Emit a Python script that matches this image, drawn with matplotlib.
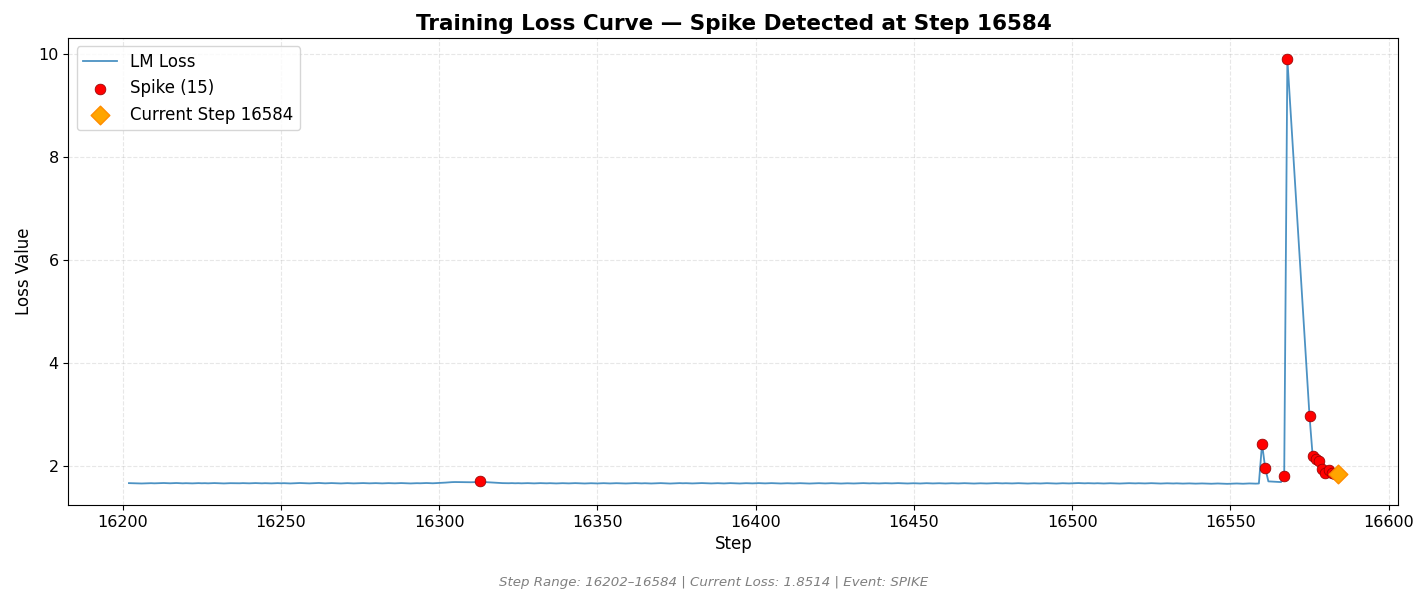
import numpy as np
import matplotlib
matplotlib.use("Agg")
import matplotlib.pyplot as plt

# loss per step (steps 16569-16574 are missing from the log)
steps = list(range(16202, 16569)) + list(range(16575, 16585))

loss = [
    1.668, 1.666, 1.663, 1.664, 1.661, 1.662, 1.665, 1.667, 1.664, 1.666, 1.668, 1.670, 1.667, 1.665, 1.668, 1.670, 1.666, 1.664, 1.667, 1.665,
    1.663, 1.666, 1.668, 1.665, 1.667, 1.664, 1.666, 1.669, 1.667, 1.664, 1.662, 1.665, 1.667, 1.666, 1.663, 1.665, 1.668, 1.666, 1.664, 1.667,
    1.669, 1.666, 1.664, 1.667, 1.665, 1.663, 1.666, 1.668, 1.665, 1.667, 1.664, 1.662, 1.665, 1.668, 1.670, 1.667, 1.665, 1.663, 1.666, 1.668,
    1.671, 1.667, 1.664, 1.666, 1.669, 1.667, 1.664, 1.662, 1.665, 1.668, 1.666, 1.663, 1.665, 1.667, 1.669, 1.666, 1.664, 1.666, 1.668, 1.665,
    1.663, 1.666, 1.668, 1.666, 1.664, 1.667, 1.669, 1.666, 1.664, 1.662, 1.665, 1.667, 1.665, 1.668, 1.670, 1.667, 1.665, 1.668, 1.671, 1.674,
    1.678, 1.683, 1.687, 1.689, 1.688, 1.686, 1.684, 1.683, 1.685, 1.686, 1.688, 1.702, 1.690, 1.686, 1.683, 1.679, 1.674, 1.670, 1.668, 1.667,
    1.666, 1.668, 1.665, 1.667, 1.664, 1.666, 1.668, 1.665, 1.663, 1.666, 1.668, 1.666, 1.664, 1.667, 1.665, 1.662, 1.664, 1.667, 1.665, 1.663,
    1.666, 1.668, 1.665, 1.663, 1.661, 1.664, 1.666, 1.664, 1.662, 1.665, 1.667, 1.664, 1.662, 1.665, 1.667, 1.665, 1.663, 1.661, 1.664, 1.666,
    1.668, 1.665, 1.663, 1.666, 1.664, 1.661, 1.663, 1.666, 1.668, 1.665, 1.663, 1.660, 1.663, 1.666, 1.668, 1.665, 1.667, 1.664, 1.662, 1.665,
    1.667, 1.669, 1.666, 1.664, 1.662, 1.665, 1.667, 1.664, 1.662, 1.665, 1.668, 1.666, 1.663, 1.661, 1.664, 1.667, 1.665, 1.663, 1.666, 1.668,
    1.666, 1.663, 1.665, 1.668, 1.666, 1.664, 1.661, 1.663, 1.666, 1.664, 1.662, 1.665, 1.667, 1.665, 1.662, 1.660, 1.663, 1.665, 1.667, 1.664,
    1.662, 1.664, 1.667, 1.665, 1.662, 1.660, 1.663, 1.665, 1.663, 1.661, 1.664, 1.666, 1.668, 1.665, 1.663, 1.666, 1.664, 1.662, 1.665, 1.667,
    1.665, 1.663, 1.666, 1.668, 1.665, 1.663, 1.661, 1.664, 1.666, 1.663, 1.661, 1.664, 1.667, 1.665, 1.662, 1.664, 1.666, 1.664, 1.661, 1.663,
    1.666, 1.664, 1.662, 1.665, 1.667, 1.664, 1.662, 1.660, 1.663, 1.665, 1.663, 1.661, 1.664, 1.666, 1.668, 1.665, 1.663, 1.666, 1.664, 1.662,
    1.665, 1.667, 1.665, 1.662, 1.660, 1.663, 1.665, 1.663, 1.661, 1.664, 1.667, 1.665, 1.662, 1.660, 1.663, 1.666, 1.664, 1.662, 1.665, 1.667,
    1.669, 1.666, 1.664, 1.667, 1.665, 1.663, 1.666, 1.664, 1.661, 1.663, 1.666, 1.664, 1.662, 1.660, 1.662, 1.665, 1.667, 1.665, 1.663, 1.666,
    1.664, 1.662, 1.665, 1.667, 1.664, 1.662, 1.660, 1.663, 1.665, 1.663, 1.661, 1.664, 1.662, 1.659, 1.661, 1.663, 1.661, 1.658, 1.660, 1.662,
    1.660, 1.658, 1.656, 1.659, 1.661, 1.658, 1.656, 1.654, 1.657, 1.659, 1.661, 1.658, 1.656, 1.659, 1.662, 1.660, 1.658, 1.661,
    2.43, 1.96, 1.702, 1.698, 1.694, 1.690, 1.688, 1.80, 9.90,
    2.97, 2.19, 2.13, 2.10, 1.94, 1.86, 1.93, 1.87, 1.84, 1.8514,
]

spike_steps = [16313, 16560, 16561, 16567, 16568, 16575, 16576, 16577,
               16578, 16579, 16580, 16581, 16582, 16583, 16584]
current_step = 16584
current_loss = 1.8514

steps = np.array(steps)
loss = np.array(loss)
spike_loss = [loss[steps == s][0] for s in spike_steps]

fig, ax = plt.subplots(figsize=(14.27, 6.02), dpi=100)
fig.subplots_adjust(left=0.048, right=0.980, top=0.937, bottom=0.161)

ax.plot(steps, loss, color="#1f77b4", lw=1.3, alpha=0.8, label="LM Loss")
ax.scatter(spike_steps, spike_loss, color="red", edgecolor="darkred", linewidth=0.5,
           s=60, zorder=5, label=f"Spike ({len(spike_steps)})")
ax.scatter([current_step], [current_loss], color="orange", edgecolor="darkorange",
           marker="D", s=90, zorder=6, label=f"Current Step {current_step}")

ax.set_title(f"Training Loss Curve \u2014 Spike Detected at Step {current_step}",
             fontsize=15.5, fontweight="bold")
ax.set_xlabel("Step", fontsize=12)
ax.set_ylabel("Loss Value", fontsize=12)
ax.tick_params(labelsize=11.5)
ax.grid(True, linestyle="--", alpha=0.3)
ax.legend(loc="upper left", fontsize=12)

fig.text(0.5, 0.027,
         f"Step Range: {steps[0]}\u2013{steps[-1]} | Current Loss: {current_loss:.4f} | Event: SPIKE",
         ha="center", fontsize=9.6, style="italic", color="gray")

fig.savefig("out.png")
